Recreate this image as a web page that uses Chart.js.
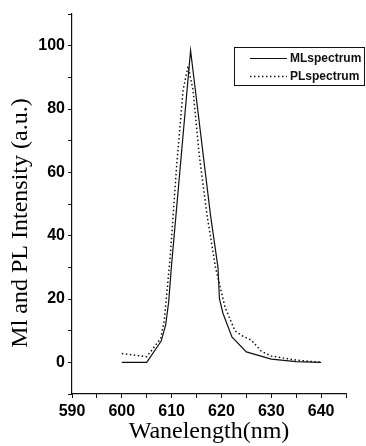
<!DOCTYPE html>
<html>
<head>
<meta charset="utf-8">
<script src="https://cdn.jsdelivr.net/npm/chart.js@4"></script>
<style>
  html, body { margin: 0; padding: 0; background: #fff; }
  canvas { display: block; }
</style>
</head>
<body>
<canvas id="chart" width="366" height="446"></canvas>
<script>
// ML spectrum (solid)
const mlWavelength = [600, 605, 607.9, 608.8, 609.4, 610, 613.8, 617.8, 619.3, 619.6, 620.3, 622.1, 625, 630, 635, 640];
const mlIntensity  = [0, 0, 6.7, 11.8, 19, 31, 98.5, 46.5, 30, 20, 15.5, 8, 3.3, 1, 0.2, 0];

// PL spectrum (dotted)
const plWavelength = [600, 605, 607.8, 608.5, 609.7, 611, 612.3, 613.3, 614.3, 615.5, 617.1, 618.8, 620.7, 622.7, 624, 626, 628, 630, 635, 640];
const plIntensity  = [2.8, 1.8, 7.5, 13, 33, 62, 86, 93.5, 86, 66, 46.5, 30, 17.5, 10, 8.5, 7, 3.5, 2, 0.7, 0];

const xTickLabels = [590, 600, 610, 620, 630, 640];
const yTickLabels = [0, 20, 40, 60, 80, 100];
const seriesNames = ["MLspectrum", "PLspectrum"];
const yTitle = "Ml and PL Intensity (a.u.)";

function toPoints(xs, ys) {
  return xs.map((x, i) => ({ x: x, y: ys[i] }));
}

const tickFont = { family: "Liberation Sans, Arial", size: 16, weight: "bold" };

// legend box inside the plot (top right) + y title sitting a bit low like the scan
const extras = {
  id: "extras",
  afterDraw(chart) {
    const ctx = chart.ctx;
    const left = 234, top = 47, w = 130, h = 38;
    ctx.save();
    ctx.strokeStyle = "#111";
    ctx.lineWidth = 1;
    ctx.strokeRect(left + 0.5, top + 0.5, w, h);
    ctx.font = "bold 12px 'Liberation Sans', Arial";
    ctx.textBaseline = "middle";
    ctx.fillStyle = "#111";
    chart.data.datasets.forEach((ds, i) => {
      const y = top + 11.5 + i * 18;
      ctx.beginPath();
      ctx.setLineDash(ds.borderDash || []);
      ctx.lineWidth = ds.borderWidth;
      ctx.moveTo(250, y);
      ctx.lineTo(287, y);
      ctx.stroke();
      ctx.setLineDash([]);
      ctx.fillText(ds.label, 290, y);
    });

    ctx.translate(21, 223);
    ctx.rotate(-Math.PI / 2);
    ctx.font = "24px 'Liberation Serif', 'Times New Roman'";
    ctx.textAlign = "center";
    ctx.fillStyle = "#000";
    ctx.fillText(yTitle, 0, 0);
    ctx.restore();
  }
};

new Chart(document.getElementById("chart"), {
  type: "line",
  data: {
    datasets: [
      {
        label: seriesNames[0],
        data: toPoints(mlWavelength, mlIntensity),
        borderColor: "#111",
        borderWidth: 1.2,
        pointRadius: 0,
        tension: 0,
      },
      {
        label: seriesNames[1],
        data: toPoints(plWavelength, plIntensity),
        borderColor: "#111",
        borderWidth: 1.5,
        borderDash: [1.5, 2.5],
        pointRadius: 0,
        tension: 0,
      },
    ],
  },
  plugins: [extras],
  options: {
    responsive: false,
    animation: false,
    devicePixelRatio: 1,
    layout: { padding: { top: 14, right: 20, left: 0, bottom: 0 } },
    plugins: {
      legend: { display: false },
      tooltip: { enabled: false },
    },
    scales: {
      x: {
        type: "linear",
        min: 590,
        max: 645,
        border: { color: "#111", width: 1.2 },
        grid: { drawOnChartArea: false, drawTicks: true, tickLength: 4, color: "#111" },
        ticks: {
          stepSize: 5,
          autoSkip: false,
          maxRotation: 0,
          padding: 4,
          color: "#000",
          font: tickFont,
          callback: (v) => (xTickLabels.includes(v) ? String(v) : ""),
        },
        title: {
          display: true,
          text: "Wanelength(nm)",
          color: "#000",
          font: { family: "Liberation Serif, Times New Roman", size: 24 },
          padding: { top: 0, bottom: 0 },
        },
        afterFit(scale) { scale.height = 52; },
      },
      y: {
        min: -10,
        max: 110,
        border: { color: "#111", width: 1.2 },
        grid: { drawOnChartArea: false, drawTicks: true, tickLength: 4, color: "#111" },
        ticks: {
          stepSize: 10,
          autoSkip: false,
          padding: 3,
          color: "#000",
          font: tickFont,
          callback: (v) => (yTickLabels.includes(v) ? String(v) : ""),
        },
        afterFit(scale) { scale.width = 72; },
      },
    },
  },
});
</script>
</body>
</html>
